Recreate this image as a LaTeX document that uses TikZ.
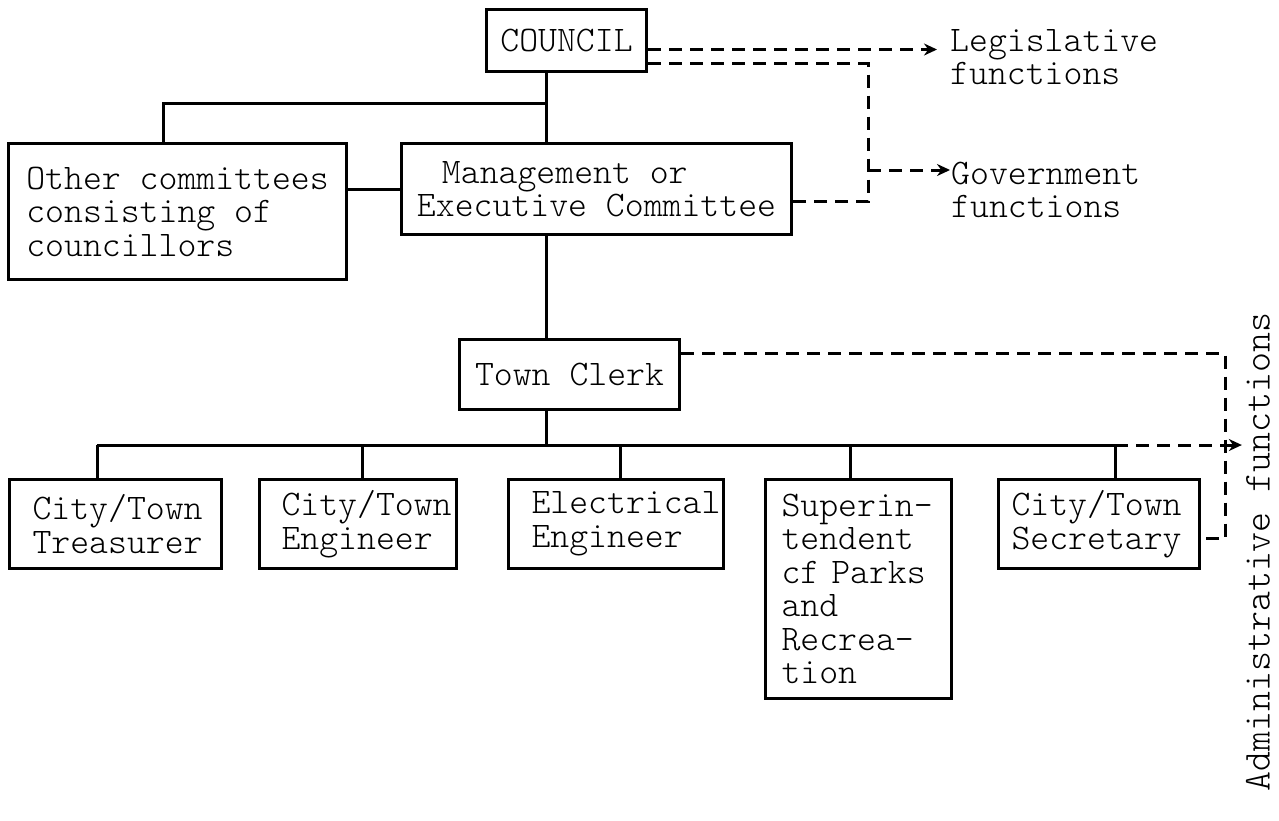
\documentclass[tikz,border=0pt]{standalone}
\usepackage{fontspec}
\newfontfamily\typewriter{Latin Modern Mono Light}
\usetikzlibrary{arrows.meta}
\begin{document}
\begin{tikzpicture}[x=1pt,y=-1pt,
  txt/.style={font=\typewriter\fontsize{36}{33.5}\selectfont},
  box/.style={draw, line width=3pt, txt, align=left, inner ysep=0pt, anchor=north west},
  link/.style={line width=3pt},
  dashlink/.style={line width=3pt, dash pattern=on 13pt off 8pt},
  tip/.style={-{Stealth[length=13pt,width=12pt]}},
  label/.style={txt, align=left, inner sep=0pt}
]
\useasboundingbox (0,0) rectangle (1279,820);

% committee level
\node[box, align=center, minimum width=160pt, minimum height=62pt] (council) at (485,8) {COUNCIL};
\node[box, minimum width=338pt, minimum height=136pt] (other) at (7,142)
  {Other committees\\consisting of\\councillors};
\node[box, minimum width=390pt, minimum height=91pt] (mgmt) at (400,142)
  {\hspace*{25pt}Management or\\Executive Committee};
\node[box, align=center, minimum width=220pt, minimum height=70pt] (clerk) at (458,338) {Town Clerk};

% departments
\node[box, minimum width=212pt, minimum height=89pt, text width=166pt, inner xsep=23pt] (treas) at (8,478)
  {City/Town\\Treasurer};
\node[box, minimum width=197pt, minimum height=89pt, text width=153pt, inner xsep=22pt] (eng) at (258,478)
  {City/Town\\Engineer};
\node[box, minimum width=215pt, minimum height=89pt, text width=169pt, inner xsep=23pt] (elec) at (507,478)
  {Electrical\\Engineer};
\node[box, minimum width=186pt, minimum height=219pt, text width=154pt, inner xsep=16pt] (super) at (764,478)
  {Superin-\\tendent\\cf Parks\\and\\Recrea-\\tion};
\node[box, minimum width=201pt, minimum height=89pt, text width=175pt, inner xsep=13pt] (sec) at (997,478)
  {City/Town\\Secretary};

% function labels
\node[label, anchor=west] (legis) at (950,57) {Legislative\\functions};
\node[label, anchor=west] (gov) at (951,190) {Government\\functions};
\node[inner sep=0pt, rotate=90, font=\typewriter\fontsize{38}{40}\selectfont] (admin) at (1258,552)
  {Administrative functions};

% line of authority
\coordinate (jt) at (546,103);
\draw[link] (jt |- council.south) -- (jt |- mgmt.north);
\draw[link] (jt) -| ([xshift=156pt]other.north west);
\draw[link] (mgmt.west) -- (mgmt.west -| other.east);
\draw[link] (jt |- mgmt.south) -- (jt |- clerk.north);
\coordinate (bus) at (546,445);
\draw[link] (jt |- clerk.south) -- (bus);
\coordinate (d1) at (97,445);
\coordinate (d2) at (362,445);
\coordinate (d3) at (620,445);
\coordinate (d4) at (850,445);
\coordinate (d5) at (1115,445);
\draw[link] (d1) -- (d5);
\foreach \d/\n in {d1/treas, d2/eng, d3/elec, d4/super, d5/sec}
  \draw[link] (\d) -- (\d |- \n.north);

% legislative and government functions
\coordinate (cl) at ([yshift=-9pt]council.east);
\coordinate (cg) at ([yshift=-23pt]council.east);
\draw[dashlink, tip, shorten >=13pt] (cl) -- (cl -| legis.west);
\coordinate (gv) at (868,170);
\coordinate (mx) at ([yshift=-12.5pt]mgmt.east);
\draw[dashlink] (cg) -| (mx -| gv) -- (mx);
\draw[dashlink, tip, shorten >=1pt] (gv) -- (gv -| gov.west);

% administrative functions
\coordinate (cx) at ([yshift=21pt]clerk.east);
\coordinate (av) at (1225,445);
\coordinate (sx) at ([yshift=-14.5pt]sec.east);
\draw[dashlink] (cx) -| (sx -| av) -- (sx);
\draw[dashlink, tip, shorten >=4pt] (d5) -- (d5 -| admin.north);
\end{tikzpicture}
\end{document}
